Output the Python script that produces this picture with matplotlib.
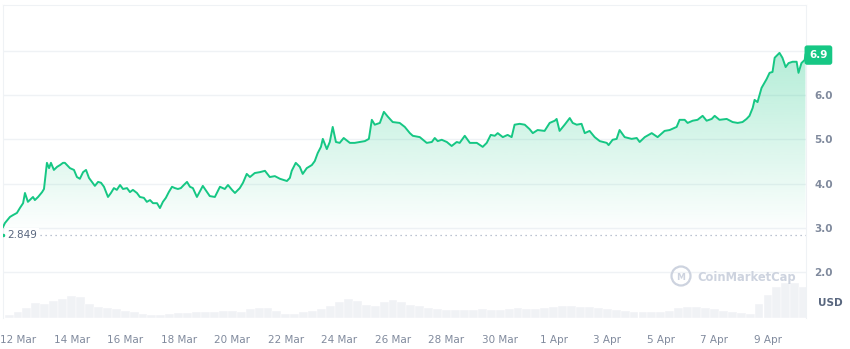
import matplotlib.pyplot as plt
import matplotlib.patches as mpatches
import matplotlib.transforms as mtransforms
import numpy as np

# price, time in days from 12 Mar 00:00
days = [-0.56, -0.49, -0.30, -0.19, -0.04, 0.07, 0.19, 0.26, 0.37, 0.56, 0.63, 0.75, 0.90, 0.97,
        1.08, 1.16, 1.23, 1.34, 1.46, 1.57, 1.68, 1.75, 1.94, 2.09, 2.20, 2.31, 2.43, 2.54, 2.65,
        2.76, 2.87, 2.99, 3.10, 3.21, 3.36, 3.47, 3.58, 3.69, 3.81, 3.92, 4.07, 4.18, 4.29, 4.44,
        4.55, 4.70, 4.81, 4.93, 5.04, 5.19, 5.30, 5.41, 5.52, 5.63, 5.75, 5.86, 5.97, 6.08, 6.19,
        6.31, 6.42, 6.53, 6.68, 6.90, 7.16, 7.35, 7.54, 7.72, 7.84, 7.99, 8.10, 8.28, 8.40, 8.54,
        8.66, 8.84, 9.03, 9.22, 9.40, 9.59, 9.78, 10.04, 10.15, 10.22, 10.37, 10.52, 10.63, 10.78,
        10.97, 11.08, 11.19, 11.31, 11.38, 11.53, 11.64, 11.75, 11.87, 12.01, 12.16, 12.39, 12.57,
        12.76, 12.95, 13.10, 13.21, 13.32, 13.51, 13.66, 13.81, 13.99, 14.25, 14.44, 14.63, 14.74,
        15.00, 15.26, 15.45, 15.56, 15.67, 15.82, 16.01, 16.19, 16.38, 16.49, 16.68, 16.87, 17.13,
        17.35, 17.50, 17.65, 17.80, 17.91, 18.10, 18.28, 18.43, 18.54, 18.73, 18.92, 19.10, 19.22,
        19.40, 19.66, 19.85, 20.04, 20.11, 20.22, 20.41, 20.60, 20.71, 20.86, 21.04, 21.16, 21.34,
        21.53, 21.72, 21.98, 22.05, 22.20, 22.35, 22.46, 22.65, 22.91, 23.10, 23.21, 23.40, 23.66,
        23.88, 24.14, 24.33, 24.59, 24.70, 24.89, 25.00, 25.19, 25.37, 25.56, 25.71, 25.90, 26.01,
        26.19, 26.46, 26.68, 26.87, 27.05, 27.20, 27.31, 27.43, 27.50, 27.61, 27.76, 27.95, 28.06,
        28.17, 28.25, 28.43, 28.54, 28.66, 28.77, 28.92, 29.07, 29.14, 29.25, 29.37, 29.40]
price = [3.02, 3.11, 3.25, 3.29, 3.34, 3.45, 3.56, 3.79, 3.59, 3.70, 3.63, 3.70, 3.81, 3.88,
         4.47, 4.35, 4.47, 4.31, 4.38, 4.42, 4.47, 4.47, 4.35, 4.31, 4.15, 4.11, 4.26, 4.31, 4.13,
         4.04, 3.95, 4.04, 4.02, 3.93, 3.70, 3.79, 3.90, 3.86, 3.97, 3.88, 3.90, 3.81, 3.86, 3.79,
         3.70, 3.68, 3.59, 3.63, 3.56, 3.56, 3.45, 3.59, 3.68, 3.81, 3.93, 3.90, 3.88, 3.90, 3.97,
         4.04, 3.93, 3.90, 3.70, 3.95, 3.72, 3.70, 3.93, 3.88, 3.97, 3.86, 3.79, 3.90, 4.02, 4.22,
         4.15, 4.24, 4.26, 4.29, 4.15, 4.17, 4.11, 4.06, 4.13, 4.29, 4.47, 4.38, 4.22, 4.35,
         4.42, 4.51, 4.69, 4.83, 5.01, 4.78, 4.94, 5.28, 4.94, 4.92, 5.03, 4.92, 4.92,
         4.94, 4.96, 5.01, 5.44, 5.33, 5.37, 5.62, 5.51, 5.39, 5.37, 5.28, 5.14, 5.08,
         5.05, 4.92, 4.94, 5.03, 4.96, 4.99, 4.94, 4.85, 4.94, 4.92, 5.08, 4.92, 4.92,
         4.83, 4.92, 5.10, 5.08, 5.14, 5.05, 5.10, 5.05, 5.33, 5.35, 5.33, 5.23, 5.14,
         5.21, 5.19, 5.37, 5.42, 5.46, 5.19, 5.33, 5.48, 5.37, 5.33, 5.35, 5.14, 5.19,
         5.05, 4.96, 4.92, 4.87, 4.99, 5.01, 5.21, 5.05, 5.01, 5.03, 4.94, 5.05, 5.14,
         5.05, 5.19, 5.21, 5.28, 5.44, 5.44, 5.37, 5.42, 5.44, 5.53, 5.42, 5.46, 5.53,
         5.44, 5.46, 5.39, 5.37, 5.39, 5.46, 5.53, 5.71, 5.89, 5.84, 6.16, 6.36, 6.50,
         6.52, 6.84, 6.95, 6.84, 6.63, 6.72, 6.75, 6.75, 6.50, 6.72, 6.79, 6.91]

# volume, 8 hour bars starting 11 Mar 12:00 (arbitrary units)
vol_days = [-0.5 + k / 3 for k in range(90)]
volume = [3, 6, 10, 15, 14.5, 17, 19, 22, 21, 14.5, 11, 10, 9, 7.5, 6, 4.5, 3.5, 3.5, 4, 5,
          5.5, 6, 6, 6.5, 7.5, 7, 6.5, 9, 10, 10, 7.5, 4.5, 4.5, 6, 7, 9, 12, 16, 19.5, 17,
          13, 12.5, 16, 18, 16.5, 13, 12, 10.5, 9.5, 8.5, 8, 8.5, 8.5, 9, 8.5, 8.5, 9.5, 10, 9.5, 9,
          10, 11, 12, 12, 11.5, 11, 10, 9, 8, 7, 6.5, 6, 6, 6.5, 7.5, 10, 11.5, 11.5, 10, 9,
          7.5, 6.5, 5.5, 4.5, 14, 23, 31, 35, 35, 31]

tick_days = [0, 2, 4, 6, 8, 10, 12, 14, 16, 18, 20, 22, 24, 26, 28]
tick_labels = ['12 Mar', '14 Mar', '16 Mar', '18 Mar', '20 Mar', '22 Mar', '24 Mar', '26 Mar',
               '28 Mar', '30 Mar', '1 Apr', '3 Apr', '5 Apr', '7 Apr', '9 Apr']
open_price = 2.849
last_price = 6.9

green = '#16c784'
grey_txt = '#808a9d'

fig = plt.figure(figsize=(8.5, 3.49), dpi=100)
ax = fig.add_axes([3 / 850, 31 / 349, 803 / 850, 313 / 349])
axv = ax.twinx()
ax.set_zorder(axv.get_zorder() + 1)
ax.patch.set_visible(False)

# volume bars
axv.bar(vol_days, volume, width=0.333, color='#f0f2f5', align='edge', zorder=1,
        edgecolor='white', linewidth=0.3)
axv.set_ylim(0, 313)
axv.axis('off')

x = np.array(days)
y = np.array(price)
ax.set_xlim(-0.56, 29.42)
ax.set_ylim(0.97, 8.03)

# gradient area
poly = ax.fill_between(x, y, open_price, color='none', lw=0)
grad = np.linspace(0.32, 0.0, 256).reshape(-1, 1)
rgba = np.zeros((256, 1, 4))
rgba[..., 0] = 0x16 / 255
rgba[..., 1] = 0xc7 / 255
rgba[..., 2] = 0x84 / 255
rgba[..., 3] = grad
img = ax.imshow(rgba, extent=[x.min(), x.max(), open_price, y.max()], aspect='auto',
                origin='upper', zorder=2)
img.set_clip_path(poly.get_paths()[0], transform=ax.transData)

ax.plot(x, y, color=green, lw=1.4, zorder=3, solid_joinstyle='round')

# grid
for g in [2, 3, 4, 5, 6, 7]:
    ax.axhline(g, color='#eff2f5', lw=1, zorder=1)
ax.axhline(open_price, xmin=0.04, color='#a6b0c3', lw=0.9, ls=(0, (1, 3)), zorder=2)
ax.text(0.005, open_price, '2.849', transform=mtransforms.blended_transform_factory(ax.transAxes, ax.transData),
        ha='left', va='center', fontsize=7.5, color='#58667e',
        bbox=dict(boxstyle='square,pad=0.2', fc='white', ec='none'), zorder=4)
ax.plot([-0.55], [open_price], marker='o', ms=1.5, color=green, zorder=5)

ax.set_yticks([2, 3, 4, 5, 6])
ax.set_yticklabels(['2.0', '3.0', '4.0', '5.0', '6.0'], fontsize=7.5, color=grey_txt, fontweight='bold')
ax.yaxis.tick_right()
ax.tick_params(axis='y', length=0, pad=6)
ax.set_xticks(tick_days)
ax.set_xticklabels(tick_labels, fontsize=7.5, color=grey_txt)
ax.tick_params(axis='x', length=0, pad=12)

for s in ['top', 'right', 'left']:
    ax.spines[s].set_color('#eff2f5')
ax.spines['bottom'].set_visible(False)

# last price badge
ax.text(1.004, last_price, '6.9', transform=mtransforms.blended_transform_factory(ax.transAxes, ax.transData),
        ha='left', va='center', fontsize=7.5, color='white', fontweight='bold',
        bbox=dict(boxstyle='round,pad=0.45,rounding_size=0.25', fc=green, ec='none'), zorder=6)

fig.text(818 / 850, 1 - 303 / 349, 'USD', ha='left', va='center', fontsize=7.5,
         color='#58667e', fontweight='bold')

# watermark
fig.text(697 / 850, 1 - 277 / 349, 'CoinMarketCap', ha='left', va='center', fontsize=8.3,
         color='#cdd3df', fontweight='semibold')
fig.patches.append(mpatches.Ellipse((681 / 850, 1 - 276 / 349), 19 / 850, 19 / 349,
                                    transform=fig.transFigure, fill=False, ec='#cdd3df', lw=1.6))
fig.text(681 / 850, 1 - 277 / 349, 'M', ha='center', va='center', fontsize=6.5,
         color='#cdd3df', fontweight='bold')

fig.savefig('out.png', dpi=100)
